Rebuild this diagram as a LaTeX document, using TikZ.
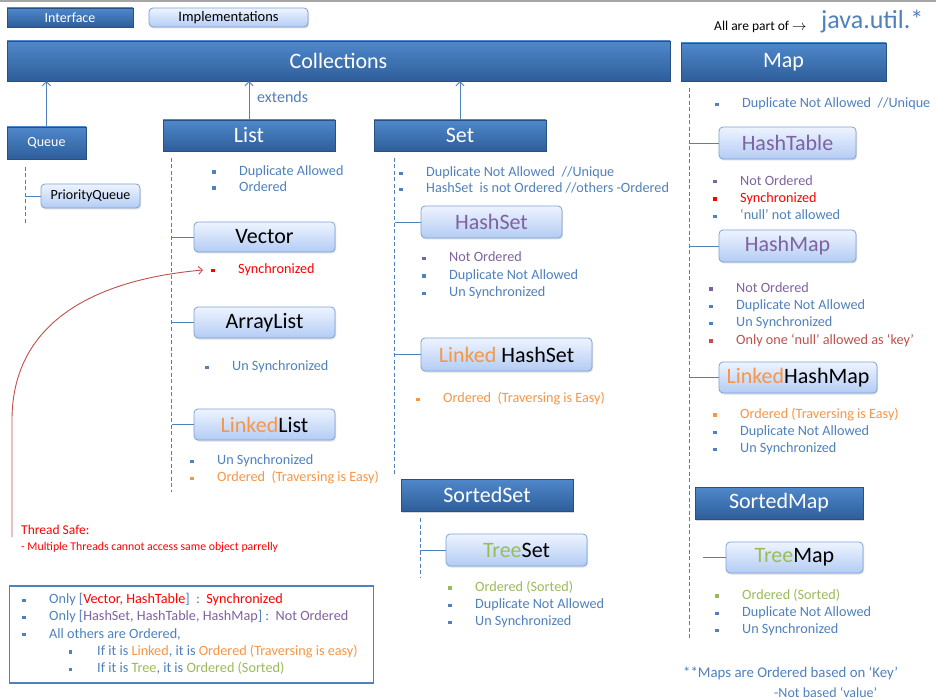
\documentclass[tikz,border=0pt]{standalone}
\usepackage{fontspec}
\setmainfont{Carlito}
\usetikzlibrary{positioning,arrows.meta,shadows}

\definecolor{ifTop}{HTML}{4F88CB}
\definecolor{ifBot}{HTML}{2E5E9A}
\definecolor{imTop}{HTML}{EEF4FF}
\definecolor{imBot}{HTML}{B3CCF4}
\definecolor{imLine}{HTML}{7EA2D6}
\definecolor{txtblue}{HTML}{4F81BD}
\definecolor{purp}{HTML}{7F62A1}
\definecolor{orng}{HTML}{F79646}
\definecolor{grn}{HTML}{9BBB59}
\definecolor{dred}{HTML}{C0504D}

\newcommand{\sq}{\rule[0.25ex]{3.3pt}{3.3pt}}
\newcommand{\itm}[1]{\makebox[27pt][l]{\sq}#1}
\newcommand{\sitm}[1]{\hspace*{47pt}\makebox[28pt][l]{\sq}#1}

\begin{document}
\begin{tikzpicture}[x=1pt,y=-1pt,
    iface/.style={rectangle, top color=ifTop, bottom color=ifBot, draw=ifBot!85!black,
      line width=0.4pt, text=white, inner sep=0pt,
      drop shadow={opacity=0.3, shadow xshift=1pt, shadow yshift=-1.5pt}},
    impl/.style={rectangle, rounded corners=4pt, top color=imTop, bottom color=imBot,
      draw=imLine, line width=0.8pt, inner sep=0pt,
      drop shadow={opacity=0.25, shadow xshift=1pt, shadow yshift=-1.5pt}},
    title/.style={font=\fontsize{22}{24}\selectfont},
    small/.style={font=\fontsize{14}{16}\selectfont},
    item/.style={anchor=west, inner sep=0pt, align=left, text=txtblue,
      font=\fontsize{14.2}{17.3}\selectfont},
    vline/.style={txtblue, line width=1pt, dash pattern=on 4pt off 2.5pt},
    hline/.style={txtblue, line width=0.9pt},
    up/.style={txtblue, line width=0.9pt, -{Straight Barb[length=4pt,width=8pt]}},
    safe/.style={dred, line width=0.9pt, -{Straight Barb[length=4pt,width=8pt]}}]
  \useasboundingbox (0,0) rectangle (936,700);
  \fill[white] (0,0) rectangle (936,700);
  \fill[black!35] (0,0) rectangle (936,2.5);

  % Legend
  \node[iface, small, minimum width=126pt, minimum height=19pt] (legIf) at (70,17.5) {Interface};
  \node[impl, font=\fontsize{14.5}{16}\selectfont, minimum width=159pt, minimum height=19pt] (legIm) at (228.5,17.5) {Implementations};
  \node[anchor=west, inner sep=0pt, font=\fontsize{13.5}{15}\selectfont] (partof) at (714,27) {All are part of $\rightarrow$};
  \node[anchor=west, inner sep=0pt, text=txtblue, font=\fontsize{26}{28}\selectfont] (pkg) at (821,22) {java.util.*};

  % Interfaces
  \node[iface, title, minimum width=663pt, minimum height=40pt] (coll) at (338.5,61) {Collections};
  \node[iface, title, minimum width=205pt, minimum height=38pt] (map) at (783.5,62) {Map};
  \node[iface, small, minimum width=79pt, minimum height=32pt] (queue) at (46.5,143) {Queue};
  \node[iface, title, minimum width=172pt, minimum height=31pt] (list) at (249,135.5) {List};
  \node[iface, title, minimum width=172pt, minimum height=31pt] (set) at (460,135.5) {Set};

  % extends
  \draw[up] (queue.north) -- (queue.north |- coll.south);
  \draw[up] (list.north) -- (list.north |- coll.south);
  \draw[up] (set.north) -- (set.north |- coll.south);
  \node[anchor=west, inner sep=0pt, text=txtblue, font=\fontsize{16}{18}\selectfont] (ext) at (257,97) {extends};

  % Queue branch
  \coordinate (qTop) at (25,167);
  \coordinate (qBot) at (25,225);
  \draw[vline] (qTop) -- (qBot);
  \node[impl, small, minimum width=99pt, minimum height=24pt] (pq) at (90.5,196) {PriorityQueue};
  \draw[hline] (pq.west) -- (pq.west -| qTop);

  % List branch
  \coordinate (lTop) at (171.5,158);
  \coordinate (lBot) at (171.5,492);
  \draw[vline] (lTop) -- (lBot);
  \node[item] (listItems) at (212,178.5) {\itm{Duplicate Allowed}\\[-1.3pt]\itm{Ordered}};
  \node[impl, title, minimum width=141pt, minimum height=30pt] (vector) at (264.5,237) {Vector};
  \node[item, text=red] (vecItems) at (211,270) {\itm{Synchronized}};
  \node[impl, title, minimum width=141pt, minimum height=31pt] (alist) at (264.5,322.5) {ArrayList};
  \node[item] (alItems) at (205,367) {\itm{Un Synchronized}};
  \node[impl, title, minimum width=141pt, minimum height=31pt] (llist) at (264.5,424.5) {\textcolor{orng}{Linked}List};
  \node[item] (llItems) at (190,469.5) {\itm{Un Synchronized}\\\textcolor{orng}{\itm{Ordered\ \ (Traversing is Easy)}}};
  \foreach \n in {vector,alist,llist}
    \draw[hline] (\n.west) -- (\n.west -| lTop);

  % Set branch
  \coordinate (sTop) at (394.5,158);
  \coordinate (sBot) at (394.5,475);
  \draw[vline] (sTop) -- (sBot);
  \node[item] (setItems) at (399,180) {\itm{Duplicate Not Allowed\ \ //Unique}\\[-1.3pt]\itm{HashSet\ \ is not Ordered //others -Ordered}};
  \node[impl, title, minimum width=141pt, minimum height=32pt, text=purp] (hset) at (491.5,222) {HashSet};
  \node[item] (hsItems) at (422,275.5) {\textcolor{purp}{\itm{Not Ordered}}\\\itm{Duplicate Not Allowed}\\\itm{Un Synchronized}};
  \node[impl, title, minimum width=171pt, minimum height=33pt] (lhset) at (506.5,354.5) {\textcolor{orng}{Linked} HashSet};
  \node[item, text=orng] (lhsItems) at (416,399) {\itm{Ordered\ \ (Traversing is Easy)}};
  \foreach \n in {hset,lhset}
    \draw[hline] (\n.west) -- (\n.west -| sTop);

  % SortedSet branch
  \node[iface, title, minimum width=172pt, minimum height=32pt] (sset) at (487,495) {SortedSet};
  \coordinate (ssTop) at (420,518);
  \coordinate (ssBot) at (420,577);
  \draw[vline] (ssTop) -- (ssBot);
  \node[impl, title, minimum width=141pt, minimum height=32pt] (tset) at (516.5,550) {\textcolor{grn}{Tree}Set};
  \draw[hline] (tset.west) -- (tset.west -| ssTop);
  \node[item] (tsItems) at (448,604.5) {\textcolor{grn}{\itm{Ordered (Sorted)}}\\\itm{Duplicate Not Allowed}\\\itm{Un Synchronized}};

  % Map branch
  \coordinate (mTop) at (689,88);
  \coordinate (mBot) at (689,640);
  \draw[vline] (mTop) -- (mBot);
  \node[item] (mapItems) at (715,104) {\itm{Duplicate Not Allowed\ \ //Unique}};
  \node[impl, title, minimum width=137pt, minimum height=32pt, text=purp] (htab) at (787.5,143) {HashTable};
  \node[item] (htItems) at (713,197.5) {\textcolor{purp}{\itm{Not Ordered}}\\\textcolor{red}{\itm{Synchronized}}\\\itm{`null' not allowed}};
  \node[impl, title, minimum width=137pt, minimum height=32pt, text=purp] (hmap) at (787.5,246) {HashMap};
  \node[item] (hmItems) at (709,314.5) {\textcolor{purp}{\itm{Not Ordered}}\\\itm{Duplicate Not Allowed}\\\itm{Un Synchronized}\\\textcolor{dred}{\itm{Only one `null' allowed as `key'}}};
  \node[impl, title, minimum width=158pt, minimum height=31pt] (lhmap) at (798,377.5) {\textcolor{orng}{Linked}HashMap};
  \node[item] (lhmItems) at (713,431.5) {\textcolor{orng}{\itm{Ordered (Traversing is Easy)}}\\\itm{Duplicate Not Allowed}\\\itm{Un Synchronized}};
  \foreach \n in {htab,hmap,lhmap}
    \draw[hline] (\n.west) -- (\n.west -| mTop);

  % SortedMap branch
  \node[iface, title, minimum width=168pt, minimum height=32pt] (smap) at (779,503) {SortedMap};
  \coordinate (smJoin) at (703,557.5);
  \node[impl, title, minimum width=137pt, minimum height=31pt] (tmap) at (794.5,557.5) {\textcolor{grn}{Tree}Map};
  \draw[hline] (tmap.west) -- (smJoin);
  \node[item] (tmItems) at (715,612.5) {\textcolor{grn}{\itm{Ordered (Sorted)}}\\\itm{Duplicate Not Allowed}\\\itm{Un Synchronized}};
  \node[anchor=west, inner sep=0pt, text=txtblue, font=\fontsize{14.8}{16}\selectfont] (note1) at (683,673) {**Maps are Ordered based on `Key'};
  \node[anchor=west, inner sep=0pt, text=txtblue, font=\fontsize{14}{16}\selectfont] (note2) at (774,692) {-Not based `value'};

  % Thread safe note
  \node[anchor=west, inner sep=0pt, text=red, font=\fontsize{13.5}{15}\selectfont] (tsafe) at (21,530) {Thread Safe:};
  \node[anchor=west, inner sep=0pt, text=red, font=\fontsize{11.8}{13}\selectfont] (tsafe2) at (21,547) {- Multiple Threads cannot access same object parrelly};
  \coordinate (tsFrom) at (12,537);
  \coordinate (tsTo) at (203,270);
  \draw[safe] (tsFrom) -- (12,420) .. controls (12,325) and (90,280) .. (tsTo);

  % Summary box
  \node[draw=txtblue, line width=1.8pt, minimum width=364pt, minimum height=97pt] (summary) at (191.5,634.5) {};
  \node[item] (sumItems) at (22,634) {%
    \itm{Only [\textcolor{red}{Vector, HashTable}]\ \ :\ \ \textcolor{red}{Synchronized}}\\
    \itm{Only [\textcolor{purp}{HashSet, HashTable, HashMap}] :\ \ \textcolor{purp}{Not Ordered}}\\
    \itm{All others are Ordered,}\\
    \sitm{If it is \textcolor{orng}{Linked}, it is \textcolor{orng}{Ordered (Traversing is easy)}}\\
    \sitm{If it is \textcolor{grn}{Tree}, it is \textcolor{grn}{Ordered (Sorted)}}};
\end{tikzpicture}
\end{document}
